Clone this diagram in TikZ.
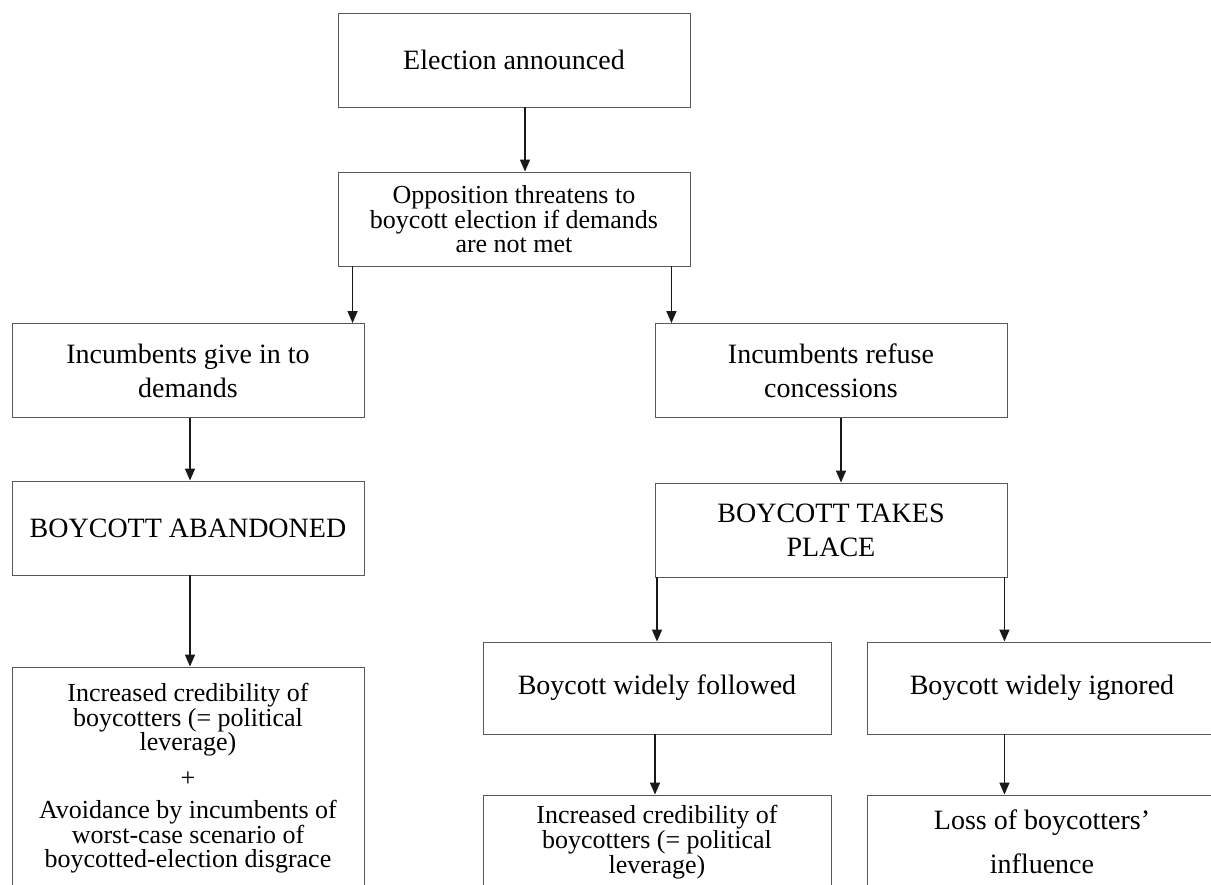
\documentclass[tikz,border=0pt]{standalone}
\usepackage{fontspec}
\setmainfont{Liberation Serif}
\usetikzlibrary{arrows.meta}
\begin{document}
\begin{tikzpicture}[x=1pt,y=-1pt,
  box/.style={draw=black!65, line width=0.9pt, minimum width=352pt, minimum height=94pt,
    inner sep=0pt, align=center, font=\fontsize{28}{34}\selectfont},
  small/.style={font=\fontsize{26}{23.5}\selectfont},
  arr/.style={draw=black!90, line width=1.5pt, -{Triangle[length=12pt,width=10pt]}}]
\useasboundingbox (0,0) rectangle (1211,885);
\clip (0,0) rectangle (1211,885);
\node[box] (e1) at (514,60) {Election announced};
\node[box,small] (e2) at (514,219) {Opposition threatens to\\boycott election if demands\\are not met};
\node[box] (e3) at (188,370.5) {Incumbents give in to\\demands};
\node[box] (e4) at (831,370.5) {Incumbents refuse\\concessions};
\node[box] (e5) at (188,528) {BOYCOTT ABANDONED};
\node[box] (e6) at (831,530) {BOYCOTT TAKES\\PLACE};
\node[box,small,minimum height=222pt] (e7) at (188,778) {Increased credibility of\\boycotters (= political\\leverage)\\[12.5pt]+\\[8.5pt]Avoidance by incumbents of\\worst-case scenario of\\boycotted-election disgrace};
\node[box,minimum width=348pt,minimum height=92pt] (e8) at (657,688) {Boycott widely followed};
\node[box,minimum width=350pt,minimum height=92pt] (e9) at (1042,688) {Boycott widely ignored};
\node[box,small,minimum width=348pt,minimum height=94pt] (e10) at (657,842) {Increased credibility of\\boycotters (= political\\leverage)};
\node[box,minimum width=350pt,minimum height=94pt] (e11) at (1042,842) {Loss of boycotters'\\[10pt]influence};
\coordinate (c1) at ([xshift=11pt]e1.south);
\draw[arr] (c1) -- (c1 |- e2.north);
\coordinate (c2) at ([xshift=15pt]e2.south west);
\draw[arr] (c2) -- (c2 |- e3.north);
\coordinate (c3) at ([xshift=-19pt]e2.south east);
\draw[arr] (c3) -- (c3 |- e4.north);
\draw[arr] ([xshift=2pt]e3.south) -- ([xshift=2pt]e5.north);
\draw[arr] ([xshift=2pt]e5.south) -- ([xshift=2pt]e7.north);
\draw[arr] ([xshift=10pt]e4.south) -- ([xshift=10pt]e6.north);
\draw[arr] (e8.north |- e6.south) -- (e8.north);
\coordinate (c4) at ([xshift=-3pt]e6.south east);
\draw[arr] (c4) -- (c4 |- e9.north);
\draw[arr] ([xshift=-2pt]e8.south) -- ([xshift=-2pt]e10.north);
\draw[arr] (e9.south -| c4) -- (e11.north -| c4);
\end{tikzpicture}
\end{document}
